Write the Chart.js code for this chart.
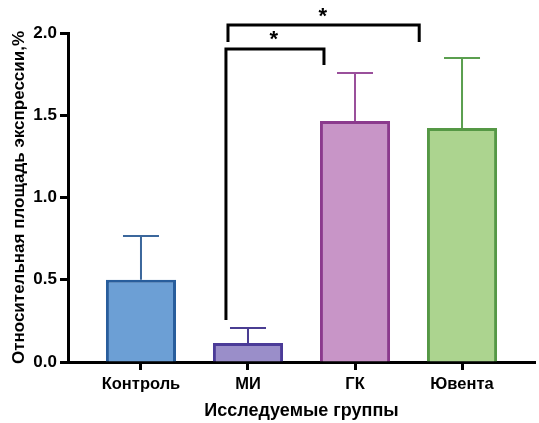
<!DOCTYPE html>
<html>
<head>
<meta charset="utf-8">
<script src="https://cdn.jsdelivr.net/npm/chart.js@4/dist/chart.umd.min.js"></script>
<style>
  html, body { margin: 0; padding: 0; background: #fff; }
  #wrap { width: 539px; height: 423px; }
</style>
</head>
<body>
<div id="wrap"><canvas id="mainChart"></canvas></div>
<script>
// Chart data
const groups = ["Контроль", "МИ", "ГК", "Ювента"];
const means = [0.5, 0.116, 1.465, 1.422];
const sem = [0.266, 0.091, 0.292, 0.426];
const yTicks = [0, 0.5, 1.0, 1.5, 2.0];

const fillColors = ["#6c9fd5", "#9a8ec9", "#c895c7", "#acd48f"];
const borderColors = ["#285d9c", "#4b3b98", "#8b3a8d", "#559845"];
const errorColors = ["#3b679c", "#4a3d92", "#9a509b", "#5b9f4f"];

// significance brackets, in data units
const brackets = [
  { from: 0.794, to: 1.71, top: 1.903, leftFoot: 0.255, rightFoot: 1.805, star: 1.24, starY: 1.98 },
  { from: 0.813, to: 2.6, top: 2.049, leftFoot: 1.945, rightFoot: 1.945, star: 1.7, starY: 2.12 },
];

const FONT = "'Liberation Sans', Arial, sans-serif";

const errorBars = {
  id: "errorBars",
  afterDatasetsDraw(chart) {
    const { ctx, scales } = chart;
    const x = scales.x, y = scales.y;
    ctx.save();
    ctx.lineWidth = 2;
    means.forEach((m, i) => {
      const px = x.getPixelForValue(i);
      const top = y.getPixelForValue(m + sem[i]);
      const base = y.getPixelForValue(m);
      ctx.strokeStyle = errorColors[i];
      ctx.beginPath();
      ctx.moveTo(px, base);
      ctx.lineTo(px, top);
      ctx.moveTo(px - 18, top);
      ctx.lineTo(px + 18, top);
      ctx.stroke();
    });
    ctx.restore();
  },
};

const sigBrackets = {
  id: "sigBrackets",
  afterDraw(chart) {
    const { ctx, scales } = chart;
    const x = scales.x, y = scales.y;
    ctx.save();
    ctx.strokeStyle = "#000";
    ctx.lineWidth = 3;
    brackets.forEach((b) => {
      ctx.beginPath();
      ctx.moveTo(x.getPixelForValue(b.from), y.getPixelForValue(b.leftFoot));
      ctx.lineTo(x.getPixelForValue(b.from), y.getPixelForValue(b.top));
      ctx.lineTo(x.getPixelForValue(b.to), y.getPixelForValue(b.top));
      ctx.lineTo(x.getPixelForValue(b.to), y.getPixelForValue(b.rightFoot));
      ctx.stroke();
      ctx.fillStyle = "#000";
      ctx.font = "bold 22px " + FONT;
      ctx.textAlign = "center";
      ctx.textBaseline = "middle";
      ctx.fillText("*", x.getPixelForValue(b.star), y.getPixelForValue(b.starY) + 4);
    });
    ctx.restore();
  },
};

const ctx = document.getElementById("mainChart").getContext("2d");
new Chart(ctx, {
  type: "bar",
  data: {
    datasets: [
      {
        data: means.map((v, i) => ({ x: i, y: v })),
        backgroundColor: fillColors,
        borderColor: borderColors,
        borderWidth: 3,
        borderSkipped: "bottom",
        barPercentage: 0.655,
        categoryPercentage: 1,
      },
    ],
  },
  options: {
    responsive: true,
    maintainAspectRatio: false,
    animation: false,
    layout: { padding: { top: 33, right: 4, left: 0, bottom: 0 } },
    plugins: {
      legend: { display: false },
      tooltip: { enabled: false },
    },
    scales: {
      x: {
        type: "linear",
        offset: false,
        min: -0.682,
        max: 3.682,
        afterFit: (s) => { s.height = 61; },
        afterBuildTicks: (s) => { s.ticks = groups.map((g, i) => ({ value: i })); },
        ticks: {
          color: "#000",
          font: { family: FONT, size: 16.5, weight: "bold" },
          padding: 5,
          maxRotation: 0,
          autoSkip: false,
          callback: (v) => groups[v] ?? "",
        },
        grid: {
          drawOnChartArea: false,
          drawTicks: true,
          tickLength: 8,
          tickWidth: 3,
          tickColor: "#000",
          offset: false,
        },
        border: { display: true, color: "#000", width: 3 },
        title: {
          display: true,
          text: "Исследуемые группы",
          color: "#000",
          font: { family: FONT, size: 18, weight: "bold" },
          padding: { top: 0, bottom: 1 },
        },
      },
      y: {
        min: 0,
        max: 2.0,
        afterFit: (s) => { s.width = 68; },
        afterBuildTicks: (s) => { s.ticks = yTicks.map((v) => ({ value: v })); },
        ticks: {
          color: "#000",
          font: { family: FONT, size: 17, weight: "bold" },
          padding: 3,
          callback: (v) => v.toFixed(1),
        },
        grid: {
          drawOnChartArea: false,
          drawTicks: true,
          tickLength: 8,
          tickWidth: 3,
          tickColor: "#000",
        },
        border: { display: true, color: "#000", width: 3 },
        title: {
          display: true,
          text: "Относительная площадь экспрессии,%",
          color: "#000",
          font: { family: FONT, size: 17, weight: "bold" },
          padding: { top: 9, bottom: 0 },
        },
      },
    },
  },
  plugins: [errorBars, sigBrackets],
});
</script>
</body>
</html>
